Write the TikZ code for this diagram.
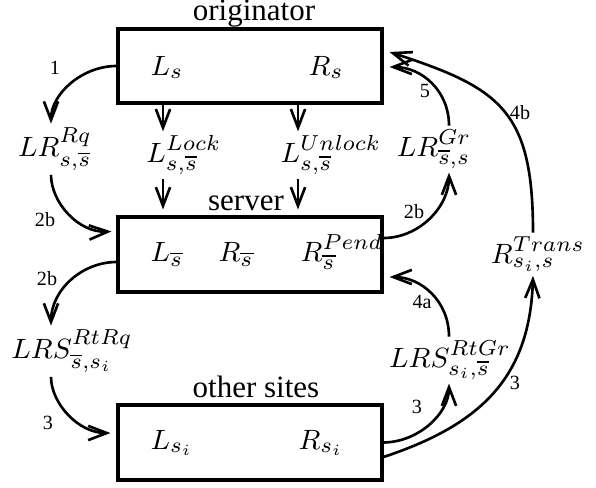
\documentclass[tikz,border=0pt]{standalone}
\usepackage{fontspec}
\setmainfont{Liberation Serif}
\usetikzlibrary{arrows.meta,calc,fit}
\begin{document}
\begin{tikzpicture}[x=0.3226pt,y=-0.3226pt,
  box/.style={draw,line width=1pt,inner sep=0pt},
  ttl/.style={anchor=base,inner sep=0pt,font=\fontsize{10}{12}\selectfont},
  inlbl/.style={anchor=base west,inner sep=0pt,font=\fontsize{9.4}{11}\selectfont},
  lbl/.style={anchor=base,inner sep=1pt,font=\fontsize{9.4}{11}\selectfont},
  num/.style={inner sep=0pt,font=\fontsize{6.5}{7}\selectfont},
  conn/.style={line width=0.85pt,-{Straight Barb[length=6pt,width=4.6pt,line width=0.85pt]}}]
\useasboundingbox (0,0) rectangle (596,487);
% boxes
\node[box, fit={(118,29) (382,103)}] (orig) {};
\node[box, fit={(118,217) (382,292)}] (srv) {};
\node[box, fit={(118,405) (382,480)}] (oth) {};
% titles
\node[ttl] (torig) at (254,21) {originator};
\node[ttl] (tsrv) at (246,210) {server};
\node[ttl] (toth) at (256,397) {other sites};
% contents
\node[inlbl] (ls) at (150,75) {$L_s$};
\node[inlbl] (rs) at (308,75) {$R_s$};
\node[inlbl] (lsb) at (150,261) {$L_{\overline{s}}$};
\node[inlbl] (rsb) at (218,261) {$R_{\overline{s}}$};
\node[inlbl] (rpend) at (300,261) {$R^{Pend}_{\overline{s}}$};
\node[inlbl] (lsi) at (150,449) {$L_{s_i}$};
\node[inlbl] (rsi) at (298,449) {$R_{s_i}$};
% outside labels
\node[lbl] (lr) at (55,156) {$LR^{Rq}_{s,\overline{s}}$};
\node[lbl] (lock) at (184,162) {$L^{Lock}_{s,\overline{s}}$};
\node[lbl] (unlock) at (331,162) {$L^{Unlock}_{s,\overline{s}}$};
\node[lbl] (lrgr) at (434,156) {$LR^{Gr}_{\overline{s},s}$};
\node[lbl] (trans) at (538,263) {$R^{Trans}_{s_i,s}$};
\node[lbl] (lrsgr) at (450,367) {$LRS^{RtGr}_{s_i,\overline{s}}$};
\node[lbl] (lrsrq) at (72,358) {$LRS^{RtRq}_{\overline{s},s_i}$};
% columns
\coordinate (cL) at (51,0);
\coordinate (cR) at (449,0);
\coordinate (cT) at (533,0);
\coordinate (cLk) at (163,0);
\coordinate (cUl) at (298,0);
% vertical arrows
\draw[conn] (orig.south -| cLk) -- (lock.north -| cLk);
\draw[conn] (lock.south -| cLk) -- ($(srv.north -| cLk)+(0,-6)$);
\draw[conn] (orig.south -| cUl) -- (unlock.north -| cUl);
\draw[conn] (unlock.south -| cUl) -- ($(srv.north -| cUl)+(0,-6)$);
% curved arrows
\draw[conn] (orig.west) .. controls (82,66) and (51,94) .. (lr.north -| cL);
\draw[conn] (lr.south -| cL) .. controls (51,202) and (78,233) .. ($(srv.north west)+(-5,16)$);
\draw[conn] ($(srv.west)+(0,7.5)$) .. controls (82,262) and (51,290) .. (lrsrq.north -| cL);
\draw[conn] (lrsrq.south -| cL) .. controls (51,403) and (78,433) .. ($(oth.west)+(-6,-9.5)$);
\draw[conn] ($(srv.east)+(0,-16.5)$) .. controls (419,238) and (449,207) .. (lrgr.south -| cR);
\draw[conn] (lrgr.north -| cR) .. controls (449,91) and (422,67) .. ($(orig.east)+(6,1)$);
\draw[conn] (trans.north -| cT) .. controls (533,110) and (500,88) .. ($(orig.east)+(6,-14)$);
\draw[conn] (lrsgr.north -| cR) .. controls (449,301) and (421,277) .. ($(srv.east)+(6,22.5)$);
\draw[conn] (oth.east) .. controls (419,442) and (449,413) .. (lrsgr.south -| cR);
\draw[conn] ($(oth.east)+(0,14.5)$) .. controls (480,425) and (530,378) .. (trans.south -| cT);
% number labels
\node[num] (n1) at (55,68) {1};
\node[num] (n2) at (45,220) {2b};
\node[num] (n3) at (47,279) {2b};
\node[num] (n4) at (48,423) {3};
\node[num] (n5) at (414,212) {2b};
\node[num] (n6) at (425,91) {5};
\node[num] (n7) at (520,113) {4b};
\node[num] (n8) at (422,302) {4a};
\node[num] (n9) at (417,407) {3};
\node[num] (n10) at (515,383) {3};
\end{tikzpicture}
\end{document}
